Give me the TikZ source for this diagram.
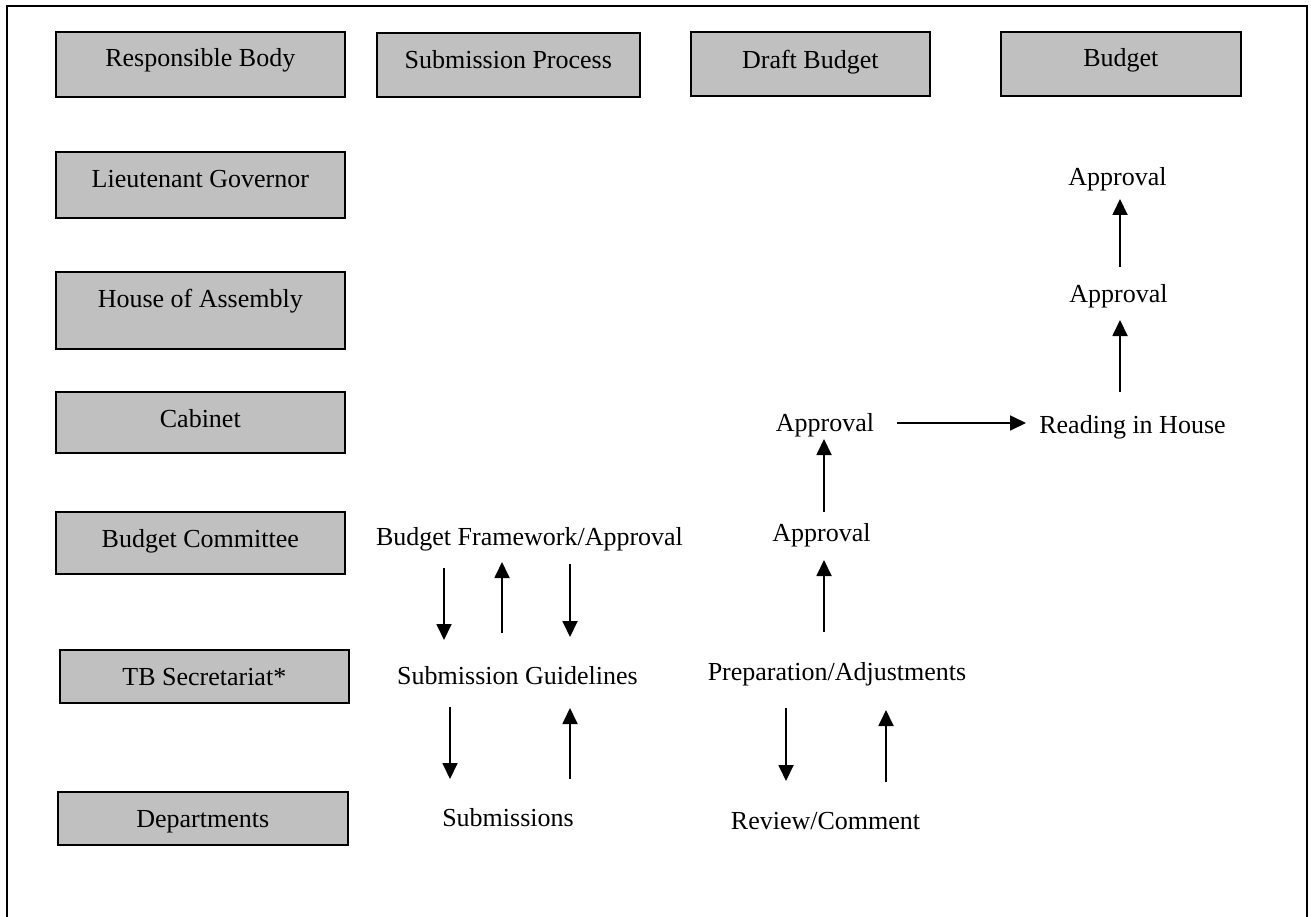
\documentclass[tikz,border=0pt]{standalone}
\usepackage{fontspec}
\setmainfont{Liberation Serif}
\usetikzlibrary{arrows.meta}
\definecolor{boxgray}{RGB}{192,192,192}
\begin{document}
\begin{tikzpicture}[x=1pt,y=-1pt,
  font=\fontsize{26}{30}\selectfont,
  hbox/.style={draw=black, line width=1.6pt, fill=boxgray, anchor=north west,
    inner xsep=0pt, inner ysep=0pt, minimum height=0pt},
  lbl/.style={anchor=base, inner sep=0pt},
  arr/.style={line width=1.8pt, -{Triangle[length=16pt,width=15pt]}}]
\useasboundingbox (0,0) rectangle (1311,917);
\clip (0,0) rectangle (1311,917);
\draw[line width=2pt] (7,930) -- (7,6) -- (1307,6) -- (1307,930);

% header boxes
\node[hbox, minimum width=289pt, text height=35pt, text depth=30pt] (rb) at (55,31) {Responsible Body};
\node[hbox, minimum width=263pt, text height=36pt, text depth=28pt] (sp) at (376,32) {Submission Process};
\node[hbox, minimum width=239pt, text height=37pt, text depth=27pt] (db) at (690,31) {Draft Budget};
\node[hbox, minimum width=240pt, text height=35pt, text depth=29pt] (bu) at (1000,31) {Budget};

% left column boxes
\node[hbox, minimum width=289pt, text height=36pt, text depth=30pt] (lg) at (55,151) {Lieutenant Governor};
\node[hbox, minimum width=289pt, text height=36pt, text depth=41pt] (ha) at (55,271) {House of Assembly};
\node[hbox, minimum width=289pt, text height=36pt, text depth=25pt] (ca) at (55,391) {Cabinet};
\node[hbox, minimum width=289pt, text height=36pt, text depth=26pt] (bc) at (55,511) {Budget Committee};
\node[hbox, minimum width=289pt, text height=36pt, text depth=17pt] (tb) at (59,649) {TB Secretariat*};
\node[hbox, minimum width=290pt, text height=36pt, text depth=17pt] (de) at (57,791) {Departments};

% free labels
\node[lbl] (ap1) at (1117.5,186) {Approval};
\node[lbl] (ap2) at (1118.5,302) {Approval};
\node[lbl] (rh) at (1132.5,433) {Reading in House};
\node[lbl] (ap3) at (825,431) {Approval};
\node[lbl] (ap4) at (821.5,541) {Approval};
\node[lbl] (bfa) at (529.5,545) {Budget Framework/Approval};
\node[lbl] (sg) at (517.5,684) {Submission Guidelines};
\node[lbl] (pa) at (837,680) {Preparation/Adjustments};
\node[lbl] (su) at (508,826) {Submissions};
\node[lbl] (rc) at (825.5,829) {Review/Comment};

% arrow end points
\coordinate (a1s) at (444,568); \coordinate (a1e) at (444,640);
\coordinate (a2s) at (502,633); \coordinate (a2e) at (502,562);
\coordinate (a3s) at (570,564); \coordinate (a3e) at (570,637);
\coordinate (a4s) at (450,707); \coordinate (a4e) at (450,779);
\coordinate (a5s) at (570,779); \coordinate (a5e) at (570,708);
\coordinate (a6s) at (786,708); \coordinate (a6e) at (786,781);
\coordinate (a7s) at (886,782); \coordinate (a7e) at (886,710);
\coordinate (a8s) at (824,632); \coordinate (a8e) at (824,560);
\coordinate (a9s) at (824,512); \coordinate (a9e) at (824,439);
\coordinate (a10s) at (897,423); \coordinate (a10e) at (1026,423);
\coordinate (a11s) at (1120,392); \coordinate (a11e) at (1120,320);
\coordinate (a12s) at (1120,267); \coordinate (a12e) at (1120,199);

\draw[arr] (a1s) -- (a1e);
\draw[arr] (a2s) -- (a2e);
\draw[arr] (a3s) -- (a3e);
\draw[arr] (a4s) -- (a4e);
\draw[arr] (a5s) -- (a5e);
\draw[arr] (a6s) -- (a6e);
\draw[arr] (a7s) -- (a7e);
\draw[arr] (a8s) -- (a8e);
\draw[arr] (a9s) -- (a9e);
\draw[arr] (a10s) -- (a10e);
\draw[arr] (a11s) -- (a11e);
\draw[arr] (a12s) -- (a12e);
\end{tikzpicture}
\end{document}
